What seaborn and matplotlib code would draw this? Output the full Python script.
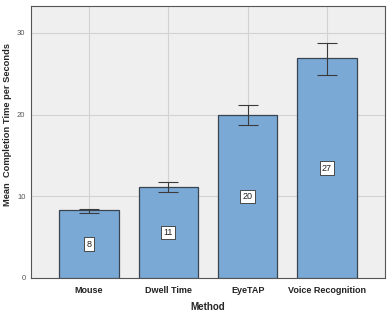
import matplotlib
matplotlib.use("Agg")
import matplotlib.pyplot as plt
import seaborn as sns
import pandas as pd
import numpy as np

methods = ["Mouse", "Dwell Time", "EyeTAP", "Voice Recognition"]
means = [8.3, 11.1, 19.9, 26.9]
err_low = [8.0, 10.5, 18.7, 24.9]
err_high = [8.5, 11.7, 21.2, 28.8]
labels = ["8", "11", "20", "27"]
yticks = [0, 10, 20, 30]

sns.set_style("white")
plt.rcParams['font.family'] = ['Liberation Sans', 'DejaVu Sans']

df = pd.DataFrame({"Method": methods, "Mean": means})

fig = plt.figure(figsize=(3.91, 3.17), dpi=100)
ax = fig.add_axes([31/391, 1 - 278/317, 354/391, 272/317])
ax.set_facecolor("#efefef")
sns.barplot(data=df, x="Method", y="Mean", ax=ax, color="#7aa9d6", saturation=1,
            width=0.75, edgecolor="#3a4450", linewidth=0.9, errorbar=None, zorder=3)
ax.grid(True, color="#d2d2d2", linewidth=0.8, zorder=0)
ax.set_axisbelow(True)

x = np.arange(len(methods))
m = np.array(means)
lo = m - np.array(err_low)
hi = np.array(err_high) - m
ax.errorbar(x, m, yerr=[lo, hi], fmt="none", ecolor="#3a3a3a", elinewidth=0.8,
            capsize=7, capthick=0.8, zorder=5)

for xi, v, lab in zip(x, means, labels):
    ax.text(xi, v / 2, lab, ha="center", va="center", fontsize=6.5, color="#222222",
            bbox=dict(boxstyle="square,pad=0.25", fc="white", ec="#333333", lw=0.6), zorder=6)

ax.set_xlim(-0.73, 3.73)
ax.set_ylim(0, 33.3)
ax.set_yticks(yticks)
ax.set_yticklabels([str(t) for t in yticks], fontsize=5.5, color="#555555")
ax.tick_params(axis="y", direction="out", length=3, width=0.8, color="#333333", pad=1)
ax.tick_params(axis="x", direction="out", length=3, width=0.8, color="#333333", pad=3,
               labelsize=6.5)
for lab in ax.get_xticklabels():
    lab.set_fontweight("bold")
    lab.set_color("#222222")
ax.set_xlabel("Method", fontsize=7, fontweight="bold")
ax.set_ylabel("Mean  Completion Time per Seconds", fontsize=6.7, fontweight="bold")
ax.yaxis.set_label_coords(-0.053, 0.5625)
ax.xaxis.set_label_coords(0.5, -0.09)
for s in ax.spines.values():
    s.set_color("#555555")
    s.set_linewidth(0.8)

fig.savefig("out.png", dpi=100)
